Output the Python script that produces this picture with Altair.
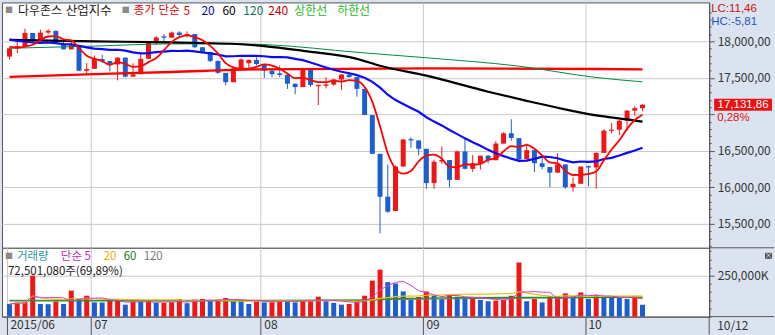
import altair as alt
import pandas as pd

# ---------------- data (Dow Jones daily, 2015-06-16 .. 2015-10-12) ----------------
opens = [17791, 17904, 17935, 18115, 18016, 18120, 18144, 17966, 17890, 17946,
         17596, 17624, 17757, 17730, 17684, 17777, 17516, 17549, 17760, 17978,
         18068, 18050, 18120, 18080, 18100, 17919, 17851, 17732, 17568, 17440,
         17631, 17700, 17746, 17690, 17598, 17562, 17540, 17420, 17373, 17615,
         17385, 17390, 17408, 17477, 17545, 17511, 17348, 16990, 16459, 15872,
         15676, 16285, 16660, 16643, 16528, 16058, 16355, 16374, 16102, 16492,
         16253, 16330, 16433, 16371, 16599, 16740, 16674, 16385, 16510, 16330,
         16279, 16201, 16314, 16001, 16049, 16290, 16272, 16472, 16774, 16790,
         16912, 17050, 17084]
highs = [17917, 17987, 18175, 18115, 18161, 18168, 18146, 18034, 17998, 17946,
         17700, 17806, 17817, 17730, 17784, 17777, 17700, 17830, 17989, 18070,
         18100, 18135, 18138, 18137, 18100, 17919, 17859, 17736, 17568, 17633,
         17767, 17750, 17780, 17690, 17630, 17668, 17560, 17420, 17630, 17615,
         17410, 17509, 17484, 17550, 17575, 17511, 17348, 16990, 16459, 16312,
         16300, 16666, 16686, 16643, 16528, 16380, 16559, 16374, 16505, 16664,
         16441, 16434, 16445, 16634, 16755, 16933, 16674, 16600, 16510, 16400,
         16279, 16466, 16314, 16136, 16285, 16300, 16480, 16798, 16882, 16927,
         17057, 17110, 17138]
lows = [17751, 17840, 17935, 17997, 18016, 18095, 17966, 17890, 17890, 17590,
        17555, 17624, 17707, 17587, 17465, 17505, 17515, 17549, 17760, 17955,
        18000, 18050, 18063, 18056, 17905, 17842, 17715, 17555, 17399, 17440,
        17631, 17619, 17670, 17499, 17510, 17510, 17348, 17277, 17373, 17375,
        17127, 17355, 17390, 17333, 17500, 17242, 16990, 16459, 15370, 15651,
        15676, 16285, 16542, 16439, 15979, 15980, 16320, 16000, 16102, 16245,
        16212, 16244, 16330, 16371, 16599, 16639, 16344, 16385, 16211, 16248,
        16000, 16201, 15981, 15942, 16049, 16013, 15979, 16472, 16739, 16716,
        16776, 16980, 17041]
closes = [17904.48, 17935.74, 18115.84, 18015.95, 18119.78, 18144.07, 17966.07, 17890.36, 17946.68, 17596.35,
          17619.51, 17757.91, 17730.11, 17683.58, 17776.91, 17515.42, 17548.62, 17760.41, 17977.68, 18053.58,
          18050.17, 18120.25, 18086.45, 18100.41, 17919.29, 17851.04, 17731.92, 17568.53, 17440.59, 17630.27,
          17751.39, 17745.98, 17689.86, 17598.20, 17550.69, 17540.47, 17419.75, 17373.38, 17615.17, 17402.84,
          17402.51, 17408.25, 17477.40, 17545.18, 17511.34, 17348.73, 16990.69, 16459.75, 15871.35, 15666.44,
          16285.51, 16654.77, 16643.01, 16528.03, 16058.35, 16351.38, 16374.76, 16102.38, 16492.68, 16253.57,
          16330.40, 16433.09, 16370.96, 16599.85, 16739.95, 16674.74, 16384.58, 16510.19, 16330.47, 16279.89,
          16201.32, 16314.67, 16001.89, 16049.13, 16284.70, 16272.01, 16472.37, 16776.43, 16790.19, 16912.29,
          17050.75, 17084.49, 17131.86]
volumes_m = [77, 87, 89, 250, 77, 76, 92, 77, 159, 112,
             128, 87, 86, 98, 99, 73, 92, 91, 98, 84,
             85, 88, 108, 82, 104, 108, 98, 104, 114, 102,
             100, 77, 102, 87, 88, 102, 94, 87, 94, 102,
             122, 94, 84, 73, 77, 102, 128, 220, 287, 211,
             203, 154, 102, 120, 154, 128, 108, 134, 122, 114,
             115, 102, 94, 98, 102, 128, 331, 94, 108, 87,
             124, 125, 142, 122, 148, 108, 134, 118, 117, 116,
             108, 125, 72.50108]
prev_day_volume_m = 95
# closes of the 19 sessions before the first bar (for the 5/20-day averages)
prior_closes = [18312.39, 18285.40, 18285.74, 18232.02, 18041.54, 18162.99, 18126.12, 18010.68,
                18040.37, 18011.94, 18076.27, 17905.58, 17849.46, 17766.55, 17764.04, 18000.40,
                18039.37, 17898.84, 17791.17]

# long averages
ma60_idx = [0, 11, 21, 30, 33, 38, 45, 48, 54, 62, 67, 71, 76, 80, 82]
ma60_val = [18020, 18000, 17985, 17960, 17935, 17870, 17760, 17665, 17530, 17310, 17185, 17090, 16985, 16930, 16900]
ma120_idx = [0, 11, 21, 30, 34, 45, 54, 66, 76, 82]
ma120_val = [17905, 17935, 17965, 17965, 17950, 17850, 17775, 17660, 17505, 17445]
ma240_idx = [0, 11, 21, 32, 54, 82]
ma240_val = [17512, 17550, 17580, 17615, 17630, 17617]
vma60_idx = [0, 30, 46, 50, 56, 66, 82]
vma60_val = [96, 97, 100, 110, 115, 117, 118]
vma120_idx = [0, 40, 50, 60, 82]
vma120_val = [100, 100, 104, 110, 118]

month_ticks = [10.55, 32.55, 53.55, 74.55]
last_price = 17131.86

# ---------------- frames ----------------
n = len(closes)
df = pd.DataFrame({'i': list(range(n)), 'open': opens, 'high': highs, 'low': lows,
                   'close': closes, 'vol': [v * 1e6 for v in volumes_m]})
df['dir'] = ['up' if c >= o else 'down' for o, c in zip(opens, closes)]
prev = [prev_day_volume_m] + volumes_m[:-1]
df['vdir'] = ['up' if v > p else 'down' for v, p in zip(volumes_m, prev)]
allc = pd.Series(prior_closes + closes)
k = len(prior_closes)
df['ma5'] = allc.rolling(5).mean().iloc[k:].values
df['ma20'] = allc.rolling(20).mean().iloc[k:].values
vs = df['vol']
df['vma5'] = vs.rolling(5, min_periods=1).mean()
df['vma20'] = vs.rolling(20, min_periods=1).mean()

def knots(idx, val, mult=1.0):
    return pd.DataFrame({'i': idx, 'v': [x * mult for x in val]})

# ---------------- style ----------------
FONT = 'Noto Sans CJK KR'
NUMFONT = 'Liberation Sans'
RED = '#f01616'
BLUE = '#1c5ed2'
GRID = '#c9c9c9'
AXC = '#555555'
TXT = '#333333'
PANEL = '#dae3ef'

W = 709
PH = 246
VH = 69
X_DOM = [-0.331, 89.99]
P_DOM = [15172, 18533]
V_DOM = [0, 420.7e6]

MAJOR = "datum.value % 500 === 0 && datum.value >= 15500 && datum.value <= 18000"
LABELED = MAJOR + " && datum.value !== 17000"

xs = alt.Scale(domain=X_DOM, nice=False, zero=False)
x_price = alt.X('i:Q', scale=xs, title=None,
                axis=alt.Axis(values=month_ticks, grid=True, gridColor=GRID, labels=False,
                              ticks=False, domain=False))
price_axis = alt.Axis(
    orient='right', title=None, values=list(range(15200, 18500, 100)),
    labelExpr="(" + LABELED + ") ? replace(format(datum.value, ',.2f'), '.', ',') : ''",
    tickSize={"condition": {"test": MAJOR, "value": 5}, "value": 2},
    gridOpacity={"condition": {"test": MAJOR, "value": 1}, "value": 0},
    grid=True, gridColor=GRID, tickColor=AXC, domainColor=AXC, labelColor=TXT,
    labelFontSize=12, labelFont=FONT, labelPadding=3, labelOverlap=False, labelFlush=False)
ps = alt.Scale(domain=P_DOM, nice=False, zero=False)
color_dir = alt.Color('dir:N', scale=alt.Scale(domain=['up', 'down'], range=[RED, BLUE]), legend=None)

base = alt.Chart(df)
wicks = base.mark_rule(strokeWidth=1).encode(
    x=x_price, y=alt.Y('low:Q', scale=ps, axis=price_axis), y2='high:Q', color=color_dir)
bodies = base.mark_bar(size=5).encode(
    x=x_price, y=alt.Y('open:Q', scale=ps, axis=price_axis), y2='close:Q', color=color_dir)

def pline(data, field, color, width):
    return alt.Chart(data).mark_line(color=color, strokeWidth=width, interpolate='monotone').encode(
        x=x_price, y=alt.Y(field + ':Q', scale=ps, axis=price_axis))

l240 = pline(knots(ma240_idx, ma240_val), 'v', '#ff0000', 2.3)
l120 = pline(knots(ma120_idx, ma120_val), 'v', '#008a45', 1)
l60 = pline(knots(ma60_idx, ma60_val), 'v', '#000000', 2.2)
l20 = base.mark_line(color='#0a0aff', strokeWidth=2.2).encode(
    x=x_price, y=alt.Y('ma20:Q', scale=ps, axis=price_axis))
l5 = base.mark_line(color='#ff0000', strokeWidth=1.8, interpolate='monotone').encode(
    x=x_price, y=alt.Y('ma5:Q', scale=ps, axis=price_axis))

one = pd.DataFrame({'k': [0]})

def label(txt, x, y, color, size=12, align='left', font=FONT):
    return alt.Chart(one).mark_text(align=align, baseline='middle', fontSize=size, font=font,
                                    color=color).encode(
        x=alt.value(x), y=alt.value(y), text=alt.value(txt))

price_legend = [
    label('■', 3, 9, '#8a8a8a', 8),
    label('다우존스', 16, 9, '#1a1a1a', 12),
    label('산업지수', 64, 9, '#1a1a1a', 12.5),
    label('■', 120, 9, '#8a8a8a', 8),
    label('종가', 132, 9, '#e00000', 11.5),
    label('단순', 157, 9, '#e00000', 11.5),
    label('5', 182, 9, '#e00000', 12),
    label('20', 200, 9, '#0000c8', 12),
    label('60', 221, 9, '#000000', 12),
    label('120', 242, 9, '#007a50', 12),
    label('240', 267, 9, '#c00000', 12),
    label('상한선', 293, 9, '#22bb22', 12),
    label('하한선', 336, 9, '#22bb22', 12),
    label('LC:11,46', 711, 6.5, '#d01010', 11.5, font=NUMFONT),
    label('HC:-5,81', 711, 20, '#1f55b5', 11.5, font=NUMFONT),
]

pdf = pd.DataFrame({'price': [last_price]})
pbox = alt.Chart(pdf).mark_rect(color='#ee1111', yOffset=-6, y2Offset=6).encode(
    x=alt.value(714), x2=alt.value(772), y=alt.Y('price:Q', scale=ps, axis=price_axis),
    y2=alt.Y2('price:Q'))
ptext = alt.Chart(pdf).mark_text(align='center', baseline='middle', fontSize=11.5, font=NUMFONT,
                                 color='white').encode(
    x=alt.value(743), y=alt.Y('price:Q', scale=ps, axis=price_axis), text=alt.value('17,131,86'))
pchg = alt.Chart(pdf).mark_text(align='left', baseline='middle', fontSize=11.5, font=NUMFONT,
                                color='#e01010', dy=13).encode(
    x=alt.value(717), y=alt.Y('price:Q', scale=ps, axis=price_axis), text=alt.value('0,28%'))

price = alt.layer(wicks, bodies, l240, l120, l60, l20, l5, pbox, ptext, pchg,
                  *price_legend).properties(width=W, height=PH)

# ---------------- volume panel ----------------
x_vol = alt.X('i:Q', scale=xs, title=None,
              axis=alt.Axis(values=[X_DOM[0]] + month_ticks, grid=True, gridColor=GRID,
                            ticks=True, tickSize=19, tickColor=AXC, domainColor=AXC,
                            labelExpr="datum.value < 0 ? '2015/06' : datum.value < 20 ? '07' : datum.value < 40 ? '08' : datum.value < 60 ? '09' : '10'",
                            labelAlign='left', labelBaseline='top', labelPadding=-16, labelOffset=3,
                            labelColor=TXT, labelFontSize=12, labelFont=FONT,
                            labelFlush=False, labelOverlap=False, labelBound=False))
vol_axis = alt.Axis(
    orient='right', title=None, values=[j * 50e6 for j in range(9)],
    labelExpr="datum.value === 250000000 ? '250,000K' : ''",
    tickSize={"condition": {"test": "datum.value === 250000000", "value": 5}, "value": 2},
    gridOpacity={"condition": {"test": "datum.value === 250000000", "value": 1}, "value": 0},
    grid=True, gridColor=GRID, tickColor=AXC, domainColor=AXC, labelColor=TXT,
    labelFontSize=12, labelFont=FONT, labelPadding=3, labelOverlap=False, labelFlush=False)
vsc = alt.Scale(domain=V_DOM, nice=False, zero=True)
color_vdir = alt.Color('vdir:N', scale=alt.Scale(domain=['up', 'down'], range=[RED, BLUE]), legend=None)

vbars = base.mark_bar(size=5).encode(
    x=x_vol, y=alt.Y('vol:Q', scale=vsc, axis=vol_axis), color=color_vdir)

def vline(data, field, color, width=1, interp='linear'):
    return alt.Chart(data).mark_line(color=color, strokeWidth=width, interpolate=interp).encode(
        x=x_vol, y=alt.Y(field + ':Q', scale=vsc, axis=vol_axis))

v120 = vline(knots(vma120_idx, vma120_val, 1e6), 'v', '#777777', 1, 'monotone')
v60 = vline(knots(vma60_idx, vma60_val, 1e6), 'v', '#2a8a2a', 1.3, 'monotone')
v20 = vline(df, 'vma20', '#e8c400', 1.2)
v5 = vline(df, 'vma5', '#d040d0', 1)

def deco_rule(x, x2, y, y2, color=AXC):
    return alt.Chart(one).mark_rule(color=color, strokeWidth=1).encode(
        x=alt.value(x), x2=alt.value(x2), y=alt.value(y), y2=alt.value(y2))

vol_deco = [
    deco_rule(709, 774, 0, 0),
    deco_rule(709, 774, 69, 69),
    deco_rule(709, 709, 69, 87),
    alt.Chart(one).mark_rect(color='#4a4a4a').encode(
        x=alt.value(765), x2=alt.value(772), y=alt.value(5), y2=alt.value(11)),
    label('×', 768.5, 8, 'white', 8, 'center'),
    label('10/12', 717, 78, TXT, 12),
    alt.Chart(one).mark_rect(opacity=0).encode(
        x=alt.value(0), x2=alt.value(774), y=alt.value(0), y2=alt.value(87)),
    label('■', 3, 9, '#8a8a8a', 8),
    label('거래량', 15, 9, '#2a9a9a', 11.5),
    label('단순 5', 59, 9, '#c030c0', 11.5),
    label('20', 102, 9, '#e0b000', 11.5),
    label('60', 122, 9, '#1e7a1e', 11.5),
    label('120', 142, 9, '#777777', 11.5),
    label('72,501,080주(69,89%)', 6, 24, '#1a1a1a', 11.5),
]

volume = alt.layer(vbars, v120, v60, v20, v5, *vol_deco).properties(width=W, height=VH)

chart = alt.vconcat(price, volume, spacing=0, bounds='flush').properties(
    padding={'left': 1, 'top': 1, 'right': 0, 'bottom': 0}
).configure(background=PANEL, font=FONT).configure_view(fill='white', stroke=AXC, strokeWidth=1)

chart.save('out.html', embed_options={'renderer': 'svg', 'actions': False})
